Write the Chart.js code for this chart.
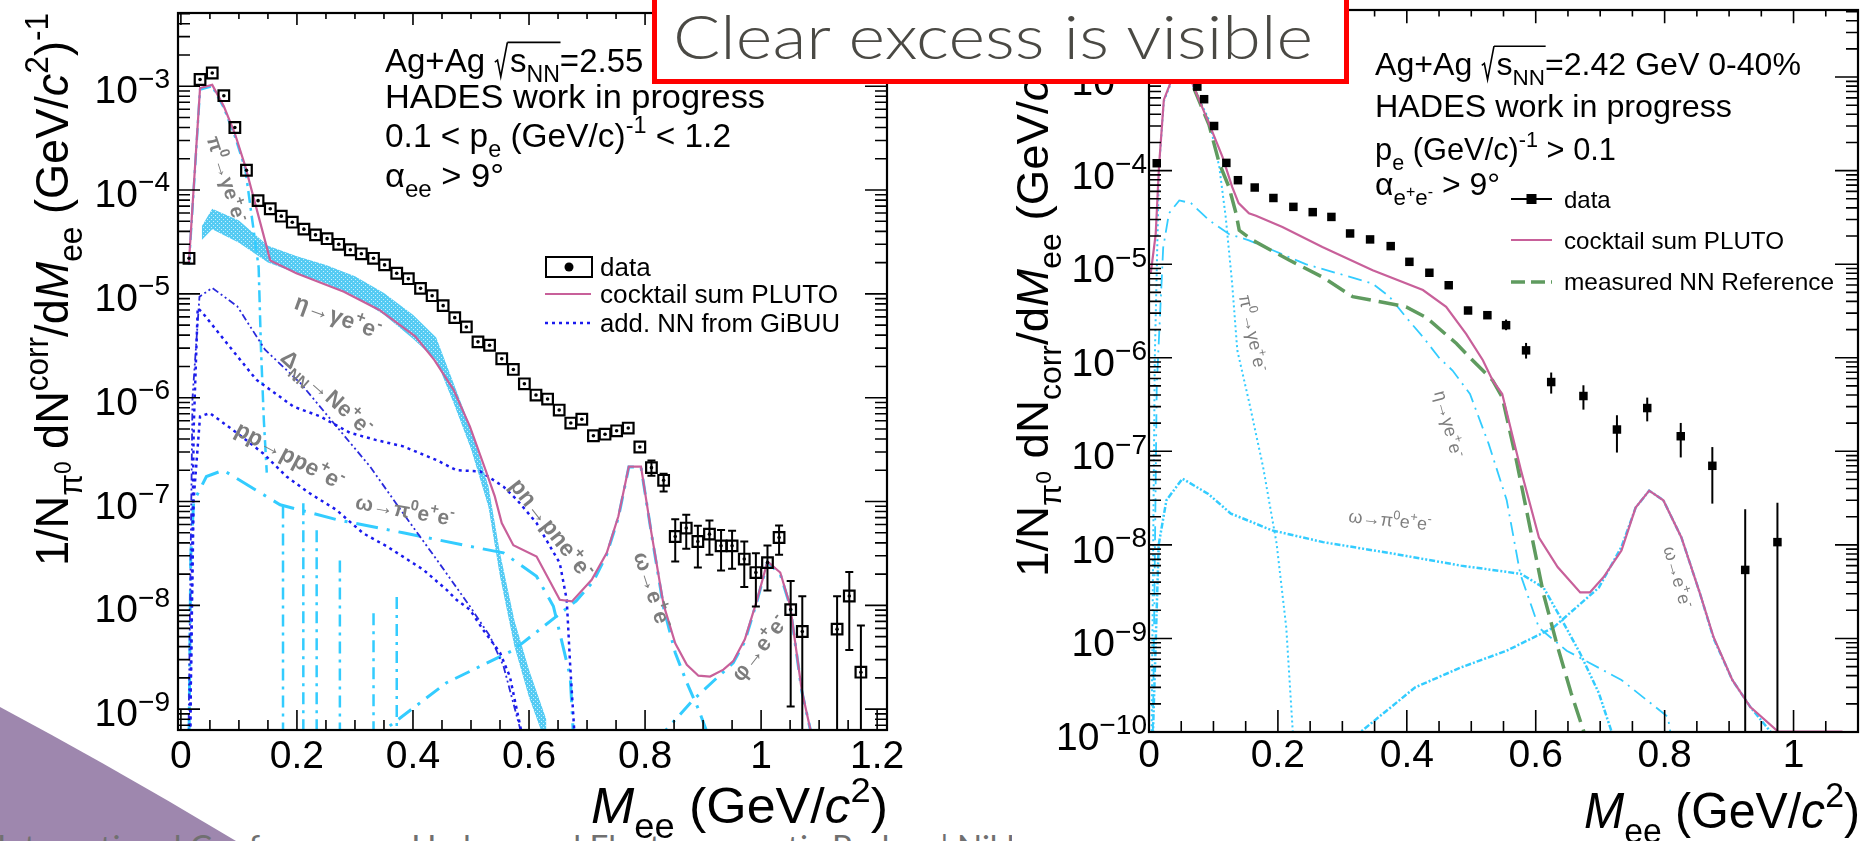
<!DOCTYPE html>
<html>
<head>
<meta charset="utf-8">
<title>Dielectron invariant mass spectra, Ag+Ag</title>
<script src="https://cdn.jsdelivr.net/npm/chart.js@4.4.1/dist/chart.umd.min.js"></script>
<style>
  html, body { margin: 0; padding: 0; background: #fff; }
  body { width: 1870px; height: 841px; position: relative; overflow: hidden; }
  svg, .panel { position: absolute; top: 0; }
  #deco { left: 0; z-index: 0; }
  #panelL { left: 0; width: 930px; height: 841px; z-index: 1; }
  #panelR { left: 1012px; width: 858px; height: 841px; z-index: 2; background: #fff; }
  #banner { left: 0; z-index: 3; pointer-events: none; }
</style>
</head>
<body>
<svg id="deco" width="1870" height="841">
  <path d="M0,707 Q118,770 236,841 L0,841 Z" fill="#9e87ae"/>
  <text x="-3" y="859" font-family="Lato" font-size="33" fill="#707070">International Conference on Hadron and Electromagnetic Probes | Nikhef</text>
</svg>
<div class="panel" id="panelL"><canvas id="left" width="930" height="841"></canvas></div>
<div class="panel" id="panelR"><canvas id="right" width="858" height="841"></canvas></div>
<svg id="banner" width="1870" height="841">
  <rect x="654.5" y="-10" width="692" height="91.5" fill="#fff" stroke="#ff0000" stroke-width="5"/>
  <text x="673" y="59" font-family="Lato" font-weight="300" font-size="62" fill="#4a4944" textLength="640" lengthAdjust="spacingAndGlyphs">Clear excess is visible</text>
</svg>
<script>
"use strict";

// ---------- left panel: Ag+Ag sqrt(sNN)=2.55 GeV ----------
const dataLX = [0.014, 0.033, 0.054, 0.074, 0.093, 0.113, 0.133, 0.154, 0.173, 0.192, 0.212, 0.232, 0.252, 0.272, 0.292,
  0.311, 0.332, 0.351, 0.372, 0.392, 0.413, 0.433, 0.452, 0.472, 0.492, 0.512, 0.532, 0.553, 0.573, 0.592, 0.612, 0.632,
  0.652, 0.672, 0.691, 0.711, 0.731, 0.751, 0.771, 0.791, 0.811, 0.832, 0.852, 0.871, 0.891, 0.911, 0.931, 0.950, 0.971,
  0.991, 1.011, 1.031, 1.051, 1.071, 1.131, 1.152, 1.172];
const dataLY = [2.2e-5, 1.16e-3, 1.34e-3, 8.1e-4, 4.0e-4, 1.55e-4, 7.9e-5, 6.6e-5, 5.6e-5, 4.9e-5, 4.2e-5, 3.7e-5, 3.4e-5, 3.0e-5, 2.66e-5,
  2.43e-5, 2.2e-5, 1.9e-5, 1.58e-5, 1.4e-5, 1.13e-5, 9.6e-6, 7.7e-6, 5.9e-6, 4.8e-6, 3.45e-6, 3.2e-6, 2.37e-6, 1.87e-6, 1.36e-6, 1.06e-6, 9.7e-7,
  7.6e-7, 5.7e-7, 6.2e-7, 4.3e-7, 4.45e-7, 4.8e-7, 5.1e-7, 3.35e-7, 2.12e-7, 1.6e-7, 4.6e-8, 5.55e-8, 4.12e-8, 4.85e-8, 3.74e-8, 3.74e-8, 2.79e-8,
  2.07e-8, 2.58e-8, 4.5e-8, 9.1e-9, 5.6e-9, 5.9e-9, 1.23e-8, 2.27e-9];
const errLX  = [0.811, 0.832, 0.852, 0.871, 0.891, 0.911, 0.931, 0.950, 0.971, 0.991, 1.011, 1.031, 1.051, 1.071, 1.131, 1.152, 1.172];
const errLHi = [2.48e-7, 1.85e-7, 6.76e-8, 7.45e-8, 5.83e-8, 6.56e-8, 5.33e-8, 5.22e-8, 4.12e-8, 3.18e-8, 3.77e-8, 5.87e-8, 1.72e-8, 1.22e-8, 1.22e-8, 2.09e-8, 6.4e-9];
const errLLo = [1.77e-7, 1.25e-7, 2.64e-8, 3.5e-8, 2.31e-8, 3.07e-8, 2.16e-8, 2.25e-8, 1.5e-8, 9.75e-9, 1.39e-8, 3.07e-8, 1.06e-9, 1e-10, 1e-10, 3.72e-9, 1e-10];

const cockLX = [0.0138, 0.033, 0.054, 0.074, 0.093, 0.111, 0.154, 0.199, 0.281, 0.342, 0.404, 0.437, 0.47, 0.498, 0.527, 0.541,
  0.553, 0.573, 0.613, 0.653, 0.674, 0.708, 0.734, 0.754, 0.772, 0.793, 0.811, 0.832, 0.852, 0.872, 0.892, 0.912, 0.935,
  0.952, 0.972, 0.993, 1.011, 1.033, 1.05, 1.07, 1.089];
const cockLY = [2.0e-5, 9.6e-4, 1.03e-3, 6.4e-4, 3.5e-4, 1.69e-4, 2.1e-5, 1.58e-5, 1.05e-5, 7.0e-6, 3.9e-6, 2.3e-6, 1.19e-6, 5.3e-7, 1.88e-7, 1.12e-7,
  6.2e-8, 3.8e-8, 2.95e-8, 1.13e-8, 1.09e-8, 1.76e-8, 3.2e-8, 7.2e-8, 2.17e-7, 2.17e-7, 4.96e-8, 1.01e-8, 4.3e-9, 2.67e-9, 2.1e-9, 2.06e-9, 2.4e-9,
  2.9e-9, 4.7e-9, 1.13e-8, 2.64e-8, 2.07e-8, 1.0e-8, 1.53e-9, 5e-10];

// eta -> gamma e+e- systematic band
const etaLX  = [0.036, 0.054, 0.10, 0.15, 0.20, 0.25, 0.30, 0.35, 0.40, 0.44, 0.47, 0.50, 0.53, 0.55, 0.575, 0.60, 0.63];
const etaLHi = [4.47e-5, 6.6e-5, 5.1e-5, 2.9e-5, 2.3e-5, 1.9e-5, 1.48e-5, 1.02e-5, 6.3e-6, 3.8e-6, 1.38e-6, 5.0e-7, 1.41e-7, 3.2e-8, 7.1e-9, 2.4e-9, 7.9e-10];
const etaLLo = [3.3e-5, 4.2e-5, 3.1e-5, 2.0e-5, 1.58e-5, 1.26e-5, 9.5e-6, 6.3e-6, 3.7e-6, 2.3e-6, 8.9e-7, 3.2e-7, 8.9e-8, 1.9e-8, 4.0e-9, 1.3e-9, 4.5e-10];

const pi0LX = [0.0138, 0.033, 0.054, 0.074, 0.093, 0.111, 0.134, 0.138, 0.143, 0.148];
const pi0LY = [1.9e-5, 9.3e-4, 1.0e-3, 6.2e-4, 3.3e-4, 1.6e-4, 1.8e-5, 3e-6, 6e-7, 1.9e-7];
const omDalLX = [0.014, 0.017, 0.022, 0.044, 0.073, 0.171, 0.268, 0.383, 0.498, 0.556, 0.613, 0.642, 0.671, 0.677];
const omDalLY = [5e-10, 3e-8, 1.0e-7, 1.74e-7, 2.0e-7, 9.3e-8, 6.7e-8, 5.0e-8, 3.7e-8, 3.2e-8, 1.9e-8, 9.8e-9, 2.06e-9, 5e-10];
const omLX = [0.327, 0.458, 0.573, 0.681, 0.711, 0.734, 0.754, 0.772, 0.793, 0.811, 0.832, 0.852, 0.872, 0.892, 0.912];
const omLY = [5e-10, 1.8e-9, 3.7e-9, 1.1e-8, 1.7e-8, 3.1e-8, 7.0e-8, 2.15e-7, 2.15e-7, 4.9e-8, 9.5e-9, 3.5e-9, 1.8e-9, 1.0e-9, 5e-10];
const phiLX = [0.82, 0.883, 0.952, 0.972, 0.993, 1.011, 1.033, 1.05, 1.07, 1.089];
const phiLY = [5e-10, 1.23e-9, 2.8e-9, 4.5e-9, 1.1e-8, 2.6e-8, 2.0e-8, 9.8e-9, 1.5e-9, 5e-10];
// cocktail components that drop to zero (vertical cyan segments)
const dropLX   = [0.176, 0.211, 0.234, 0.274, 0.332, 0.372];
const dropLTop = [8.95e-8, 9.6e-8, 5.3e-8, 2.7e-8, 8.4e-9, 1.2e-8];

// GiBUU NN contributions
const dnnLX = [0.013, 0.02, 0.032, 0.054, 0.097, 0.145, 0.206, 0.268, 0.326, 0.383, 0.441, 0.498, 0.533, 0.556, 0.59];
const dnnLY = [5e-10, 1e-6, 9.4e-6, 1.14e-5, 7.6e-6, 2.9e-6, 1.38e-6, 5.3e-7, 2.17e-7, 7.7e-8, 2.75e-8, 9.8e-9, 5.0e-9, 2.6e-9, 5e-10];
const pnLX = [0.016, 0.022, 0.029, 0.038, 0.084, 0.13, 0.194, 0.24, 0.291, 0.337, 0.383, 0.441, 0.475, 0.516, 0.556, 0.579,
  0.613, 0.653, 0.665, 0.671, 0.679];
const pnLY = [5e-10, 5e-7, 7.3e-6, 6.5e-6, 3.1e-6, 1.49e-6, 8.2e-7, 6.6e-7, 4.6e-7, 3.9e-7, 3.4e-7, 2.5e-7, 2.0e-7, 1.95e-7, 1.39e-7, 1.04e-7,
  6.2e-8, 2.55e-8, 1.13e-8, 2.6e-9, 5e-10];
const ppLX = [0.0155, 0.022, 0.033, 0.05, 0.096, 0.142, 0.182, 0.222, 0.268, 0.314, 0.355, 0.418, 0.458, 0.475, 0.498, 0.521, 0.55, 0.567, 0.59];
const ppLY = [5e-10, 1.05e-7, 6.6e-7, 7.1e-7, 4.6e-7, 2.9e-7, 1.74e-7, 1.2e-7, 8.3e-8, 4.95e-8, 3.7e-8, 2.2e-8, 1.41e-8, 1.13e-8, 9.1e-9, 5.8e-9, 3.5e-9, 2.06e-9, 5e-10];

// ---------- right panel: Ag+Ag sqrt(sNN)=2.42 GeV 0-40% ----------
const dataRX = [0.012, 0.075, 0.0855, 0.101, 0.120, 0.138, 0.164, 0.193, 0.224, 0.254, 0.283, 0.312, 0.343, 0.375, 0.404,
  0.435, 0.465, 0.495, 0.525, 0.554, 0.585, 0.624, 0.674, 0.726, 0.773, 0.825, 0.874, 0.925, 0.975];
const dataRY = [1.2e-4, 7.9e-4, 5.8e-4, 3.0e-4, 1.21e-4, 7.9e-5, 6.6e-5, 5.1e-5, 4.1e-5, 3.6e-5, 3.2e-5, 2.13e-5, 1.84e-5, 1.56e-5, 1.06e-5,
  8.1e-6, 5.96e-6, 3.2e-6, 2.85e-6, 2.23e-6, 1.2e-6, 5.5e-7, 3.9e-7, 1.71e-7, 2.9e-7, 1.45e-7, 7.0e-8, 5.4e-9, 1.07e-8];
const errRX  = [0.554, 0.585, 0.624, 0.674, 0.726, 0.773, 0.825, 0.874, 0.925, 0.975];
const errRHi = [2.56e-6, 1.44e-6, 6.95e-7, 5.08e-7, 2.43e-7, 3.75e-7, 2.01e-7, 1.11e-7, 2.4e-8, 2.82e-8];
const errRLo = [1.97e-6, 9.8e-7, 4.14e-7, 2.79e-7, 9.7e-8, 2.09e-7, 8.6e-8, 2.76e-8, 1e-11, 1e-11];

const cockRX = [0.0026, 0.0104, 0.0155, 0.023, 0.045, 0.067, 0.093, 0.114, 0.129, 0.139, 0.155, 0.166, 0.207, 0.269, 0.347,
  0.425, 0.461, 0.492, 0.518, 0.533, 0.548, 0.577, 0.605, 0.634, 0.669, 0.684, 0.705, 0.733, 0.755, 0.776, 0.798, 0.826,
  0.855, 0.876, 0.905, 0.933, 0.976, 1.076];
const cockRY = [7.9e-6, 2.1e-5, 1.1e-4, 5.7e-4, 1.4e-3, 8.6e-4, 3.2e-4, 1.4e-4, 6.7e-5, 4.5e-5, 3.5e-5, 3.3e-5, 2.5e-5, 1.53e-5, 8.6e-6,
  5.3e-6, 3.5e-6, 1.8e-6, 9.4e-7, 5.75e-7, 4.1e-7, 6.3e-8, 1.2e-8, 5.8e-9, 3.1e-9, 3.1e-9, 4.5e-9, 8.7e-9, 2.5e-8, 3.8e-8, 3.0e-8, 1.2e-8,
  3.0e-9, 1.03e-9, 3.6e-10, 1.85e-10, 1.01e-10, 1.01e-10];
const nnRX = [0.045, 0.067, 0.093, 0.109, 0.124, 0.135, 0.14, 0.161, 0.218, 0.269, 0.316, 0.347, 0.399, 0.43, 0.477, 0.502,
  0.533, 0.548, 0.57, 0.591, 0.612, 0.634, 0.655, 0.677];
const nnRY = [1.35e-3, 8.4e-4, 3.1e-4, 1.2e-4, 6.7e-5, 3.5e-5, 2.3e-5, 1.8e-5, 1.1e-5, 7.3e-6, 4.5e-6, 4.1e-6, 3.5e-6, 2.7e-6, 1.42e-6, 9.4e-7,
  5.75e-7, 3.8e-7, 8e-8, 1.55e-8, 3e-9, 8.1e-10, 2.6e-10, 9e-11];
const pi0RX = [0.004, 0.009, 0.0155, 0.023, 0.045, 0.067, 0.093, 0.109, 0.119, 0.129, 0.137, 0.156, 0.177, 0.198, 0.213, 0.2235];
const pi0RY = [9e-11, 1e-6, 1.05e-4, 5.5e-4, 1.35e-3, 8.3e-4, 3.5e-4, 1.1e-4, 3.2e-5, 6.2e-6, 1.2e-6, 3.2e-7, 6.8e-8, 1.03e-8, 1.3e-9, 9e-11];
const etaRX = [0.006, 0.012, 0.022, 0.031, 0.047, 0.065, 0.093, 0.124, 0.155, 0.192, 0.243, 0.295, 0.347, 0.373, 0.399, 0.425,
  0.45, 0.471, 0.498, 0.527, 0.555, 0.576, 0.605, 0.648, 0.733, 0.805, 0.81];
const etaRY = [9e-11, 5e-7, 1.5e-5, 3.5e-5, 4.8e-5, 4.5e-5, 2.96e-5, 2.1e-5, 1.8e-5, 1.41e-5, 1.0e-5, 7.9e-6, 6.2e-6, 4.5e-6, 2.7e-6, 1.67e-6,
  1.0e-6, 7.3e-7, 4.1e-7, 1.2e-7, 3.0e-8, 4.9e-9, 1.3e-9, 7.4e-10, 3.6e-10, 1.45e-10, 9e-11];
const omDalRX = [0.006, 0.015, 0.027, 0.052, 0.092, 0.127, 0.191, 0.27, 0.377, 0.484, 0.577, 0.612, 0.641, 0.669, 0.698, 0.72];
const omDalRY = [9e-11, 1e-8, 3.0e-8, 5.1e-8, 3.5e-8, 2.16e-8, 1.43e-8, 1.07e-8, 8.1e-9, 6.0e-9, 4.9e-9, 3.5e-9, 1.56e-9, 6.9e-10, 2.6e-10, 9e-11];
const omRX = [0.32, 0.413, 0.484, 0.555, 0.627, 0.698, 0.733, 0.755, 0.776, 0.798, 0.826, 0.855, 0.876, 0.905, 0.933, 0.97];
const omRY = [9e-11, 3e-10, 4.9e-10, 7.4e-10, 1.3e-9, 3.5e-9, 9.5e-9, 2.5e-8, 3.8e-8, 3.0e-8, 1.2e-8, 3.0e-9, 1.0e-9, 3.6e-10, 1.85e-10, 9e-11];

// ---------- styling ----------
const FONT = '"Liberation Sans", Arial, Helvetica, sans-serif';
const PINK = '#c8609a', CYAN = '#33ccff', BLUE = '#1a1aee', GREEN = '#5f9b5f', GREY = '#7d7d7d';

function font(px, it, b) {
  return (it ? 'italic ' : '') + (b ? 'bold ' : '') + px.toFixed(2) + 'px ' + FONT;
}

// tiny ROOT-like markup: ^{..} sup, _{..} sub, `{..} sup inside sub, $..$ italic
function parse(str) {
  const segs = [];
  let buf = '', it = false;
  const flush = () => { if (buf) { segs.push({ t: buf, it }); buf = ''; } };
  for (let i = 0; i < str.length; i++) {
    const c = str[i];
    if ((c === '^' || c === '_' || c === '`') && str[i + 1] === '{') {
      flush();
      const j = str.indexOf('}', i);
      const t = str.slice(i + 2, j);
      if (c === '^') segs.push({ t, k: 0.7, dy: -0.42, it });
      else if (c === '_') segs.push({ t, k: 0.7, dy: 0.3, it });
      else segs.push({ t, k: 0.5, dy: 0.06, it });
      i = j;
    } else if (c === '$') {
      flush(); it = !it;
    } else {
      buf += c;
    }
  }
  flush();
  return segs;
}

function segWidth(ctx, s, size, b) {
  if (s.rad) return 0.48 * size;
  ctx.font = font(size * (s.k || 1), s.it, b);
  return ctx.measureText(s.t).width;
}

function drawRich(ctx, segs, x, y, size, o) {
  o = o || {};
  const b = !!o.bold;
  let w = 0;
  for (const s of segs) w += segWidth(ctx, s, size, b);
  const sx = o.width ? o.width / w : 1;
  ctx.save();
  ctx.translate(x, y);
  if (o.rot) ctx.rotate(o.rot * Math.PI / 180);
  ctx.scale(sx, 1);
  let cx = o.align === 'right' ? -w : o.align === 'center' ? -w / 2 : 0;
  const by = o.vmid ? 0.35 * size : 0;
  ctx.fillStyle = o.color || '#000';
  ctx.strokeStyle = o.color || '#000';
  ctx.textAlign = 'left';
  ctx.textBaseline = 'alphabetic';
  let ovA = null, ovB = null;
  for (const s of segs) {
    const sw = segWidth(ctx, s, size, b);
    if (s.rad) {
      ctx.lineWidth = 0.05 * size;
      ctx.beginPath();
      ctx.moveTo(cx + 0.02 * size, by - 0.3 * size);
      ctx.lineTo(cx + 0.1 * size, by - 0.36 * size);
      ctx.lineTo(cx + 0.2 * size, by + 0.14 * size);
      ctx.lineTo(cx + 0.4 * size, by - 0.9 * size);
      ctx.stroke();
      ovA = cx + 0.4 * size;
    } else {
      ctx.font = font(size * (s.k || 1), s.it, b);
      ctx.fillText(s.t, cx, by + (s.dy || 0) * size);
      if (s.ov) ovB = cx + sw;
    }
    cx += sw;
  }
  if (ovA !== null && ovB !== null) {
    ctx.beginPath();
    ctx.moveTo(ovA, by - 0.9 * size);
    ctx.lineTo(ovB + 0.02 * size, by - 0.9 * size);
    ctx.stroke();
  }
  ctx.restore();
}

function sqrtLine(prefix, rest) {
  return parse(prefix).concat([{ rad: true }, { t: 's', ov: true }, { t: 'NN', k: 0.7, dy: 0.3, ov: true }], parse(rest));
}

// per panel decorations, read by the frame plugin
const decor = {
  left: {
    xMinor: 0.05, perMajor: 4, xMaj: 20, xMin: 10, yMaj: 22, yMin: 12,
    yLabGap: 8, yLabDy: 17, xLabDy: 38,
    errors: { x: errLX, hi: errLHi, lo: errLLo, cap: 4 },
    dots: { x: dataLX, y: dataLY },
    texts: [
      { segs: parse('1/N_{π}`{0} dN^{corr}/d$M$_{ee} (GeV/$c$^{2})^{-1}'), x: 68, y: 566, size: 47, rot: -90, width: 553 },
      { segs: parse('$M$_{ee} (GeV/$c$^{2})'), x: 888, y: 823, size: 50, align: 'right', width: 297 },
      { segs: sqrtLine('Ag+Ag ', '=2.55 GeV 0-40%'), x: 385, y: 72, size: 33 },
      { segs: parse('HADES work in progress'), x: 385, y: 108, size: 33, width: 380 },
      { segs: parse('0.1 < p_{e} (GeV/c)^{-1} < 1.2'), x: 385, y: 147, size: 33, width: 346 },
      { segs: parse('α_{ee} > 9°'), x: 385, y: 187, size: 33, width: 119 },
      { segs: parse('data'), x: 600, y: 276, size: 26 },
      { segs: parse('cocktail sum PLUTO'), x: 600, y: 303, size: 26, width: 238 },
      { segs: parse('add. NN from GiBUU'), x: 600, y: 332, size: 26, width: 240 },
      { segs: parse('π^{0}→γe^{+}e^{-}'), x: 227, y: 179, size: 20, rot: 72, align: 'center', vmid: true, bold: true, color: GREY },
      { segs: parse('η→γe^{+}e^{-}'), x: 338, y: 316, size: 23, rot: 20, align: 'center', vmid: true, bold: true, color: GREY },
      { segs: parse('Δ_{NN}→Ne^{+}e^{-}'), x: 327, y: 392, size: 22, rot: 42, align: 'center', vmid: true, bold: true, color: GREY },
      { segs: parse('pp→ppe^{+}e^{-}'), x: 290, y: 455, size: 23, rot: 28, align: 'center', vmid: true, bold: true, color: GREY },
      { segs: parse('ω→π^{0}e^{+}e^{-}'), x: 405, y: 510, size: 21, rot: 10, align: 'center', vmid: true, bold: true, color: GREY },
      { segs: parse('pn→pne^{+}e^{-}'), x: 552, y: 528, size: 23, rot: 52, align: 'center', vmid: true, bold: true, color: GREY },
      { segs: parse('ω→e^{+}e^{-}'), x: 653, y: 590, size: 22, rot: 72, align: 'center', vmid: true, bold: true, color: GREY },
      { segs: parse('φ→e^{+}e^{-}'), x: 759, y: 648, size: 22, rot: -52, align: 'center', vmid: true, bold: true, color: GREY }
    ],
    legend: [
      { kind: 'box', x0: 546, x1: 592, y: 267 },
      { kind: 'line', x0: 545, x1: 591, y: 294, color: PINK, width: 2.2, dash: [] },
      { kind: 'line', x0: 545, x1: 591, y: 323, color: BLUE, width: 2.5, dash: [3, 4] }
    ]
  },
  right: {
    xMinor: 0.05, perMajor: 4, xMaj: 22, xMin: 11, yMaj: 23, yMin: 12,
    yLabGap: 2, yLabDy: 18, xLabDy: 35,
    errors: { x: errRX, hi: errRHi, lo: errRLo, cap: 0 },
    dots: null,
    texts: [
      { segs: parse('1/N_{π}`{0} dN_{corr}/d$M$_{ee} (GeV/$c$^{2})^{-1}'), x: 36, y: 577, size: 44, rot: -90, width: 560 },
      { segs: parse('$M$_{ee} (GeV/$c$^{2})'), x: 848, y: 828, size: 50, align: 'right', width: 276 },
      { segs: sqrtLine('Ag+Ag ', '=2.42 GeV 0-40%'), x: 363, y: 75, size: 32, width: 426 },
      { segs: parse('HADES work in progress'), x: 363, y: 117, size: 32, width: 357 },
      { segs: parse('p_{e} (GeV/c)^{-1} > 0.1'), x: 363, y: 160, size: 32, width: 241 },
      { segs: parse('α_{e}`{+}_{e}`{-} > 9°'), x: 363, y: 195, size: 32, width: 125 },
      { segs: parse('data'), x: 552, y: 208, size: 24 },
      { segs: parse('cocktail sum PLUTO'), x: 552, y: 249, size: 24, width: 220 },
      { segs: parse('measured NN Reference'), x: 552, y: 290, size: 24, width: 270 },
      { segs: parse('π^{0}→γe^{+}e^{-}'), x: 241, y: 333, size: 18, rot: 78, align: 'center', vmid: true, color: GREY },
      { segs: parse('η→γe^{+}e^{-}'), x: 437, y: 424, size: 18, rot: 75, align: 'center', vmid: true, color: GREY },
      { segs: parse('ω→π^{0}e^{+}e^{-}'), x: 378, y: 520, size: 18, rot: 6, align: 'center', vmid: true, color: GREY },
      { segs: parse('ω→e^{+}e^{-}'), x: 666, y: 577, size: 18, rot: 74, align: 'center', vmid: true, color: GREY }
    ],
    legend: [
      { kind: 'marker', x0: 499, x1: 540, y: 199 },
      { kind: 'line', x0: 499, x1: 540, y: 240, color: PINK, width: 2.2, dash: [] },
      { kind: 'line', x0: 499, x1: 540, y: 282, color: GREEN, width: 3.5, dash: [14, 6] }
    ]
  }
};

const rootFrame = {
  id: 'rootFrame',
  afterDatasetsDraw(chart) {
    const d = decor[chart.canvas.id];
    const ctx = chart.ctx, xs = chart.scales.x, ys = chart.scales.y, a = chart.chartArea;
    ctx.save();
    ctx.beginPath();
    ctx.rect(a.left, a.top, a.right - a.left, a.bottom - a.top);
    ctx.clip();
    ctx.strokeStyle = '#000';
    ctx.fillStyle = '#000';
    ctx.lineWidth = 2;
    const e = d.errors;
    e.x.forEach((xv, i) => {
      const px = xs.getPixelForValue(xv);
      const hi = ys.getPixelForValue(e.hi[i]);
      const lo = ys.getPixelForValue(e.lo[i]);
      ctx.beginPath();
      ctx.moveTo(px, hi); ctx.lineTo(px, lo);
      if (e.cap) {
        ctx.moveTo(px - e.cap, hi); ctx.lineTo(px + e.cap, hi);
        ctx.moveTo(px - e.cap, lo); ctx.lineTo(px + e.cap, lo);
      }
      ctx.stroke();
    });
    if (d.dots) {
      d.dots.x.forEach((xv, i) => {
        ctx.beginPath();
        ctx.arc(xs.getPixelForValue(xv), ys.getPixelForValue(d.dots.y[i]), 1.8, 0, Math.PI * 2);
        ctx.fill();
      });
    }
    ctx.restore();
  },
  afterDraw(chart) {
    const d = decor[chart.canvas.id];
    const ctx = chart.ctx, xs = chart.scales.x, ys = chart.scales.y, a = chart.chartArea;
    ctx.save();
    // inward ticks on all four sides
    ctx.strokeStyle = '#000';
    ctx.lineWidth = 1.6;
    ctx.beginPath();
    for (let i = 0; i * d.xMinor <= xs.max + 1e-9; i++) {
      const v = i * d.xMinor;
      if (v < xs.min) continue;
      const px = xs.getPixelForValue(v);
      const L = i % d.perMajor === 0 ? d.xMaj : d.xMin;
      ctx.moveTo(px, a.bottom); ctx.lineTo(px, a.bottom - L);
      ctx.moveTo(px, a.top); ctx.lineTo(px, a.top + L * 0.6);
    }
    const e0 = Math.floor(Math.log10(ys.min)), e1 = Math.ceil(Math.log10(ys.max));
    for (let e = e0; e <= e1; e++) {
      for (let m = 1; m <= 9; m++) {
        const v = m * Math.pow(10, e);
        if (v < ys.min * 0.999 || v > ys.max) continue;
        const py = ys.getPixelForValue(v);
        const L = m === 1 ? d.yMaj : d.yMin;
        ctx.moveTo(a.left, py); ctx.lineTo(a.left + L, py);
        ctx.moveTo(a.right, py); ctx.lineTo(a.right - L, py);
      }
    }
    ctx.stroke();
    ctx.lineWidth = 2.2;
    ctx.strokeRect(a.left, a.top, a.right - a.left, a.bottom - a.top);

    // tick labels
    ctx.fillStyle = '#000';
    ctx.font = font(39);
    ctx.textAlign = 'center';
    ctx.textBaseline = 'alphabetic';
    for (let i = 0; i * 0.2 <= xs.max + 1e-9; i++) {
      const v = Math.round(i * 2) / 10;
      ctx.fillText(String(v), xs.getPixelForValue(v), a.bottom + d.xLabDy);
    }
    for (let e = Math.ceil(Math.log10(ys.min) - 1e-9); e <= Math.floor(Math.log10(ys.max)); e++) {
      const py = ys.getPixelForValue(Math.pow(10, e));
      drawRich(ctx, [{ t: '10' }, { t: '\u2212' + (-e), k: 0.72, dy: -0.4 }], a.left - d.yLabGap, py + d.yLabDy, 39, { align: 'right' });
    }

    // legend symbols
    d.legend.forEach(l => {
      ctx.save();
      if (l.kind === 'box') {
        ctx.strokeStyle = '#000'; ctx.lineWidth = 2;
        ctx.strokeRect(l.x0, l.y - 10, l.x1 - l.x0, 20);
        ctx.beginPath(); ctx.arc((l.x0 + l.x1) / 2, l.y, 4.5, 0, Math.PI * 2); ctx.fillStyle = '#000'; ctx.fill();
      } else if (l.kind === 'marker') {
        ctx.strokeStyle = '#000'; ctx.lineWidth = 2;
        ctx.beginPath(); ctx.moveTo(l.x0, l.y); ctx.lineTo(l.x1, l.y); ctx.stroke();
        ctx.fillStyle = '#000'; ctx.fillRect((l.x0 + l.x1) / 2 - 5, l.y - 5, 10, 10);
      } else {
        ctx.strokeStyle = l.color; ctx.lineWidth = l.width; ctx.setLineDash(l.dash);
        ctx.beginPath(); ctx.moveTo(l.x0, l.y); ctx.lineTo(l.x1, l.y); ctx.stroke();
      }
      ctx.restore();
    });

    d.texts.forEach(t => drawRich(ctx, t.segs, t.x, t.y, t.size, t));
    ctx.restore();
  }
};
Chart.register(rootFrame);

function pts(xs, ys) {
  return xs.map((x, i) => ({ x, y: ys[i] }));
}

function line(data, color, width, dash, extra) {
  return Object.assign({
    data, borderColor: color, borderWidth: width, borderDash: dash || [],
    pointRadius: 0, fill: false, tension: 0
  }, extra || {});
}

function hatch() {
  const c = document.createElement('canvas');
  c.width = 4; c.height = 4;
  const g = c.getContext('2d');
  g.fillStyle = '#55cbf3';
  g.fillRect(0, 0, 4, 4);
  g.fillStyle = '#c9f0ff';
  g.fillRect(1, 1, 1, 1);
  g.fillRect(3, 3, 1, 1);
  return g.createPattern(c, 'repeat');
}

function options(pad, xr, yr) {
  return {
    responsive: false, animation: false, devicePixelRatio: 1, events: [],
    layout: { padding: pad },
    scales: {
      x: { type: 'linear', min: xr[0], max: xr[1], display: false },
      y: { type: 'logarithmic', min: yr[0], max: yr[1], display: false }
    },
    plugins: { legend: { display: false }, tooltip: { enabled: false } }
  };
}

const yMinL = 6.3e-10;
const dropData = [];
dropLX.forEach((x, i) => {
  dropData.push({ x, y: dropLTop[i] }, { x, y: yMinL / 2 }, { x, y: null });
});

// datasets listed top layer first
new Chart(document.getElementById('left'), {
  type: 'line',
  data: {
    datasets: [
      {
        data: pts(dataLX, dataLY), showLine: false, pointStyle: 'rect', pointRadius: 7.5,
        pointBorderWidth: 2.2, pointBorderColor: '#000', pointBackgroundColor: 'rgba(0,0,0,0)'
      },
      line(pts(cockLX, cockLY), PINK, 2.2),
      line(pts(pnLX, pnLY), BLUE, 2.5, [3, 4]),
      line(pts(ppLX, ppLY), BLUE, 2.5, [3, 4]),
      line(pts(dnnLX, dnnLY), '#2a2adc', 1.8, [7, 3, 2, 3, 2, 3]),
      line(pts(pi0LX, pi0LY), CYAN, 2.5, [12, 5, 3, 5]),
      line(pts(omDalLX, omDalLY), CYAN, 3, [22, 9, 3, 9]),
      line(pts(omLX, omLY), CYAN, 3, [16, 8, 3, 8]),
      line(pts(phiLX, phiLY), CYAN, 3, [16, 8, 3, 8]),
      line(dropData, CYAN, 2.5, [12, 6, 3, 6]),
      line(pts(etaLX, etaLHi), 'rgba(0,0,0,0)', 0, [], { backgroundColor: hatch(), fill: '+1' }),
      line(pts(etaLX, etaLLo), 'rgba(0,0,0,0)', 0)
    ]
  },
  options: options({ left: 178, right: 43, top: 13, bottom: 111 }, [-0.005, 1.217], [yMinL, 5.07e-3])
});

new Chart(document.getElementById('right'), {
  type: 'line',
  data: {
    datasets: [
      {
        data: pts(dataRX, dataRY), showLine: false, pointStyle: 'rect', pointRadius: 6,
        pointBorderWidth: 0, pointBackgroundColor: '#000'
      },
      line(pts(cockRX, cockRY), PINK, 2.2),
      line(pts(nnRX, nnRY), GREEN, 3.5, [20, 8]),
      line(pts(pi0RX, pi0RY), CYAN, 2, [2, 3]),
      line(pts(etaRX, etaRY), CYAN, 1.8, [14, 6, 2, 6]),
      line(pts(omDalRX, omDalRY), CYAN, 2.5, [6, 2, 2, 2, 2, 2]),
      line(pts(omRX, omRY), CYAN, 2.5, [6, 2, 2, 2])
    ]
  },
  options: options({ left: 137, right: 12, top: 10, bottom: 109 }, [0, 1.1], [1e-10, 5.21e-3])
});
</script>
</body>
</html>
